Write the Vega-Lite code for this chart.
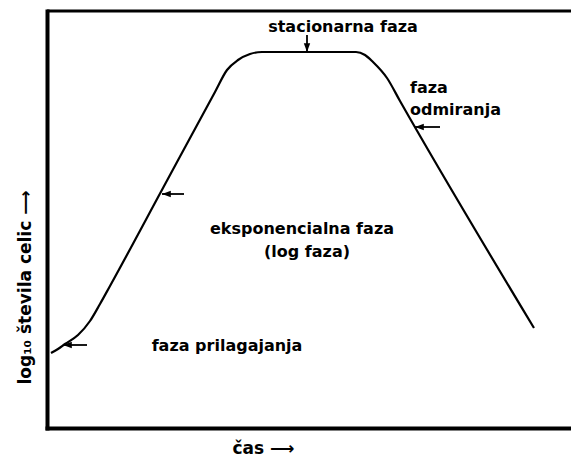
{
  "$schema": "https://vega.github.io/schema/vega-lite/v6.json",
  "width": 524,
  "height": 417,
  "autosize": {"type": "none"},
  "padding": {"left": 47, "top": 11, "right": 0, "bottom": 29},
  "background": "white",
  "config": {
    "view": {"stroke": null},
    "font": "DejaVu Sans",
    "axis": {
      "domainColor": "black",
      "domainWidth": 4,
      "domainCap": "square",
      "ticks": false,
      "labels": false,
      "grid": false,
      "titleFont": "DejaVu Sans",
      "titleFontWeight": "bold",
      "titleFontSize": 17,
      "titleColor": "black"
    }
  },
  "datasets": {
    "curve": [
      {"t": 4, "v": 75},
      {"t": 11, "v": 79},
      {"t": 18, "v": 84},
      {"t": 31, "v": 93},
      {"t": 43, "v": 107},
      {"t": 53, "v": 124},
      {"t": 63, "v": 142},
      {"t": 116, "v": 240},
      {"t": 168, "v": 336},
      {"t": 180, "v": 358},
      {"t": 191, "v": 368},
      {"t": 203, "v": 374},
      {"t": 215, "v": 376},
      {"t": 309, "v": 376},
      {"t": 318, "v": 373},
      {"t": 326, "v": 366},
      {"t": 340, "v": 350},
      {"t": 353, "v": 327},
      {"t": 487, "v": 100}
    ],
    "frameTop": [{"t": 0, "t2": 524, "v": 417}],
    "arrows": [
      {"t": 16, "v": 83, "t2": 40, "v2": 83, "dir": "left"},
      {"t": 115, "v": 234, "t2": 137, "v2": 234, "dir": "left"},
      {"t": 368, "v": 301, "t2": 393, "v2": 301, "dir": "left"},
      {"t": 260, "v": 376, "t2": 260, "v2": 393, "dir": "down"}
    ],
    "phasesCentered": [
      {"t": 296, "v": 396, "label": "stacionarna faza"},
      {"t": 255, "v": 194, "label": "eksponencialna faza"},
      {"t": 260, "v": 171, "label": "(log faza)"},
      {"t": 180, "v": 77, "label": "faza prilagajanja"}
    ],
    "phasesLeft": [
      {"t": 363, "v": 335, "label": "faza"},
      {"t": 363, "v": 313, "label": "odmiranja"}
    ]
  },
  "encoding": {
    "x": {
      "field": "t",
      "type": "quantitative",
      "scale": {"domain": [0, 524], "nice": false, "zero": false},
      "axis": {
        "orient": "bottom",
        "title": "čas ⟶",
        "titleX": 216,
        "titleY": 25,
        "titleAlign": "center",
        "titleBaseline": "alphabetic"
      }
    },
    "y": {
      "field": "v",
      "type": "quantitative",
      "scale": {"domain": [0, 417], "nice": false, "zero": false},
      "axis": {
        "orient": "left",
        "title": "log₁₀ števila celic ⟶",
        "titleX": -22,
        "titleY": 276,
        "titleAngle": 270,
        "titleAlign": "center",
        "titleBaseline": "middle"
      }
    }
  },
  "layer": [
    {
      "data": {"name": "curve"},
      "mark": {"type": "line", "color": "black", "strokeWidth": 2.2, "interpolate": "monotone"}
    },
    {
      "data": {"name": "frameTop"},
      "mark": {"type": "rule", "color": "black", "strokeWidth": 3},
      "encoding": {"x2": {"field": "t2"}}
    },
    {
      "data": {"name": "arrows"},
      "mark": {"type": "rule", "color": "black", "strokeWidth": 1.8},
      "encoding": {"x2": {"field": "t2"}, "y2": {"field": "v2"}}
    },
    {
      "data": {"name": "arrows"},
      "transform": [{"filter": "datum.dir === 'left'"}],
      "mark": {"type": "point", "filled": true, "color": "black", "opacity": 1, "size": 64, "shape": "M0,0 L2.2,-0.8 L2.2,0.8 Z"}
    },
    {
      "data": {"name": "arrows"},
      "transform": [{"filter": "datum.dir === 'down'"}],
      "mark": {"type": "point", "filled": true, "color": "black", "opacity": 1, "size": 64, "shape": "M0,0 L-0.8,-2.2 L0.8,-2.2 Z"}
    },
    {
      "data": {"name": "phasesCentered"},
      "mark": {"type": "text", "font": "DejaVu Sans", "fontWeight": "bold", "fontSize": 16, "color": "black", "align": "center", "baseline": "alphabetic"},
      "encoding": {"text": {"field": "label"}}
    },
    {
      "data": {"name": "phasesLeft"},
      "mark": {"type": "text", "font": "DejaVu Sans", "fontWeight": "bold", "fontSize": 16, "color": "black", "align": "left", "baseline": "alphabetic"},
      "encoding": {"text": {"field": "label"}}
    }
  ]
}
